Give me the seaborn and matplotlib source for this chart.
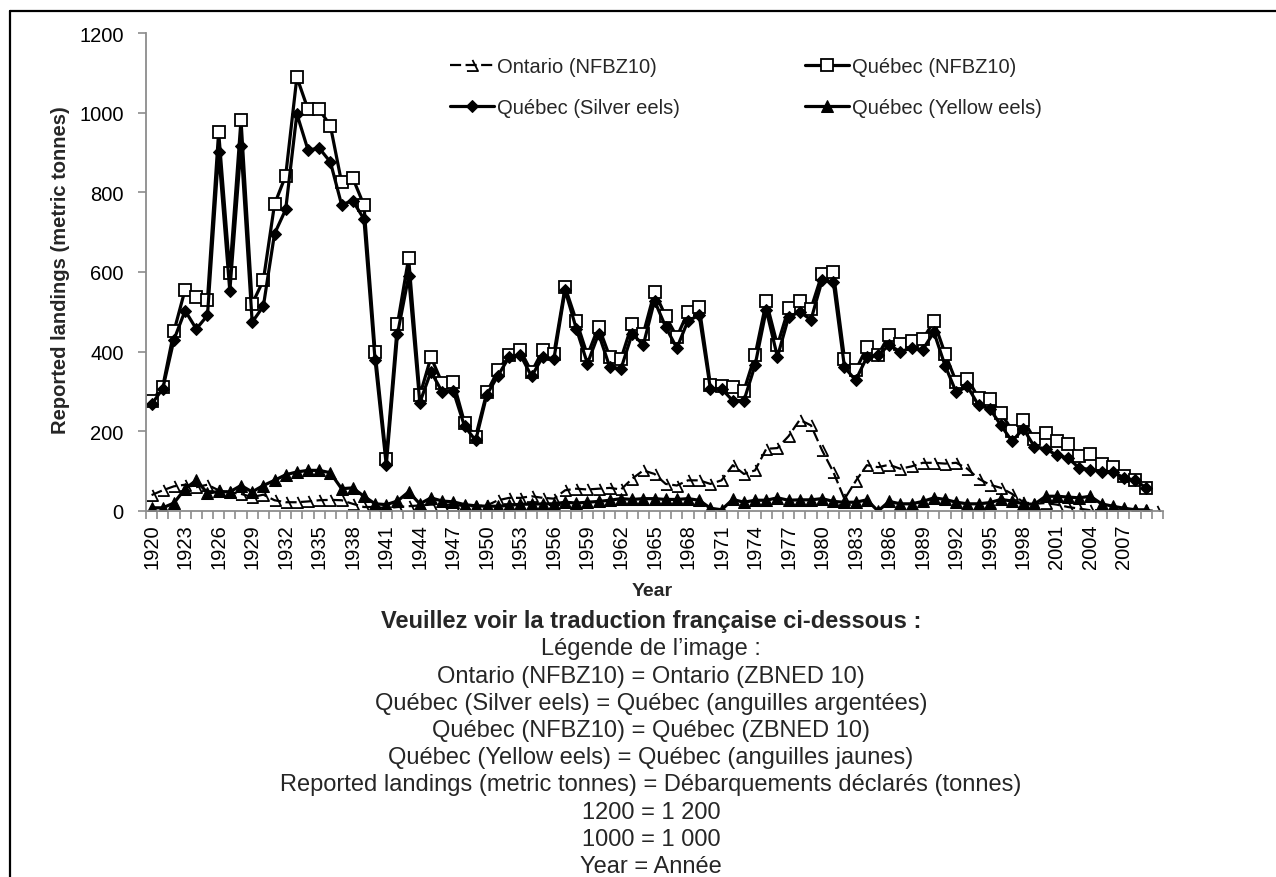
import numpy as np
import pandas as pd
import matplotlib
matplotlib.use("Agg")
import matplotlib.pyplot as plt
import seaborn as sns
from matplotlib.path import Path
from matplotlib.lines import Line2D

# ---------------- data ----------------
years_quebec = list(range(1920, 2010))
years_ontario = list(range(1920, 2011))

quebec_nfbz10 = [275, 312, 451, 556, 538, 530, 952, 598, 982, 520,
                 579, 770, 842, 1089, 1008, 1008, 967, 825, 836, 768,
                 399, 131, 469, 635, 290, 386, 321, 324, 222, 187,
                 298, 353, 392, 403, 349, 403, 395, 562, 478, 391,
                 463, 387, 382, 470, 445, 550, 489, 437, 500, 512,
                 317, 313, 311, 302, 391, 526, 416, 509, 526, 508,
                 596, 600, 382, 353, 411, 391, 442, 420, 426, 431,
                 476, 395, 324, 332, 284, 280, 246, 202, 229, 180,
                 196, 175, 169, 139, 144, 119, 110, 89, 77, 58]

quebec_silver = [268, 307, 430, 503, 457, 491, 902, 552, 917, 474,
                 514, 696, 757, 997, 906, 911, 876, 769, 779, 733,
                 378, 115, 444, 589, 272, 350, 299, 301, 213, 177,
                 292, 340, 387, 392, 338, 387, 382, 554, 458, 370,
                 445, 361, 357, 445, 417, 528, 462, 409, 478, 491,
                 307, 307, 277, 277, 366, 505, 387, 487, 500, 480,
                 579, 575, 361, 328, 386, 392, 416, 400, 409, 405,
                 449, 365, 298, 313, 265, 257, 215, 175, 207, 161,
                 156, 140, 133, 108, 104, 99, 99, 83, 77, 58]

quebec_yellow = [8, 8, 20, 56, 77, 45, 49, 48, 64, 48,
                 64, 77, 91, 98, 102, 102, 96, 56, 58, 37,
                 18, 16, 25, 48, 18, 33, 25, 23, 16, 13,
                 12, 12, 14, 17, 17, 18, 18, 22, 20, 22,
                 24, 27, 31, 29, 31, 31, 29, 29, 31, 27,
                 7, 3, 29, 22, 27, 27, 33, 27, 28, 28,
                 31, 24, 22, 22, 28, 0, 24, 18, 18, 24,
                 33, 29, 22, 18, 18, 21, 29, 25, 18, 17,
                 37, 37, 35, 33, 37, 18, 12, 7, 3, 3]

ontario_nfbz10 = [40, 52, 62, 66, 60, 66, 52, 47, 43, 35,
                  41, 27, 22, 22, 24, 27, 28, 27, 18, 10,
                  10, 7, 10, 12, 14, 16, 16, 16, 12, 12,
                  14, 27, 33, 33, 37, 33, 31, 52, 56, 54,
                  56, 58, 54, 81, 102, 93, 68, 64, 77, 77,
                  68, 77, 115, 93, 102, 156, 158, 188, 229, 215,
                  152, 98, 30, 75, 115, 110, 116, 106, 112, 121,
                  121, 119, 121, 106, 81, 66, 58, 43, 22, 18,
                  20, 16, 10, 6, 2, 2, 2, 2, 2, 2, 0]

tick_years = list(range(1920, 2008, 3))
labels = {
    "ontario": "Ontario (NFBZ10)",
    "silver": "Québec (Silver eels)",
    "nfbz": "Québec (NFBZ10)",
    "yellow": "Québec (Yellow eels)",
}
ylabel = "Reported landings (metric tonnes)"
xlabel = "Year"
notes_title = "Veuillez voir la traduction française ci-dessous :"
notes = [
    "Légende de l’image :",
    "Ontario (NFBZ10) = Ontario (ZBNED 10)",
    "Québec (Silver eels) = Québec (anguilles argentées)",
    "Québec (NFBZ10) = Québec (ZBNED 10)",
    "Québec (Yellow eels) = Québec (anguilles jaunes)",
    "Reported landings (metric tonnes) = Débarquements déclarés (tonnes)",
    "1200 = 1 200",
    "1000 = 1 000",
    "Year = Année",
]

# ---------------- style ----------------
sns.set_theme(style="white")
plt.rcParams['font.family'] = ['Liberation Sans', 'DejaVu Sans']

W, H = 1276, 878
fig = plt.figure(figsize=(W / 100, H / 100), dpi=100)
fig.patch.set_facecolor("white")

ax_left, ax_right, ax_top, ax_bottom = 146, 1163, 34, 512
ax = fig.add_axes([ax_left / W, 1 - ax_bottom / H,
                   (ax_right - ax_left) / W, (ax_bottom - ax_top) / H])

# custom open-triangle marker for Ontario (right edge + base)
ont_marker = Path([(0, 1), (1, -1), (-1, -1)],
                  [Path.MOVETO, Path.LINETO, Path.LINETO])

df_ont = pd.DataFrame({"year": years_ontario, "value": ontario_nfbz10})
df_q = pd.DataFrame({"year": years_quebec, "nfbz": quebec_nfbz10,
                     "silver": quebec_silver, "yellow": quebec_yellow})

sns.lineplot(data=df_ont, x="year", y="value", ax=ax, color="black",
             linewidth=1.6, linestyle=(0, (5, 2)), marker=ont_marker,
             markersize=8, markerfacecolor="none", markeredgecolor="black",
             markeredgewidth=1.3, label=labels["ontario"])
sns.lineplot(data=df_q, x="year", y="nfbz", ax=ax, color="black",
             linewidth=2.3, marker="s", markersize=8.5,
             markerfacecolor="white", markeredgecolor="black",
             markeredgewidth=1.3, label=labels["nfbz"])
sns.lineplot(data=df_q, x="year", y="silver", ax=ax, color="black",
             linewidth=2.3, marker="D", markersize=6,
             markerfacecolor="black", markeredgecolor="black",
             label=labels["silver"])
sns.lineplot(data=df_q, x="year", y="yellow", ax=ax, color="black",
             linewidth=2.3, marker="^", markersize=9,
             markerfacecolor="black", markeredgecolor="black",
             label=labels["yellow"])

ax.set_xlim(1919.5, 2010.5)
ax.set_ylim(0, 1200)
ax.set_yticks(range(0, 1201, 200))
ax.set_xticks(tick_years)
ax.set_xticklabels([str(y) for y in tick_years], rotation=90)
ax.set_xticks(np.arange(1919.5, 2011, 1.0), minor=True)
ax.tick_params(axis="x", which="major", length=0, pad=9, labelsize=14.5,
               labelcolor="black")
ax.tick_params(axis="x", which="minor", length=6, width=1.2,
               color="#8c8c8c", direction="out")
ax.tick_params(axis="y", which="major", length=6, width=1.2,
               color="#8c8c8c", direction="out", pad=10, labelsize=14.5,
               labelcolor="black")
ax.xaxis.set_ticks_position("bottom")
ax.yaxis.set_ticks_position("left")
for side in ("top", "right"):
    ax.spines[side].set_visible(False)
for side in ("left", "bottom"):
    ax.spines[side].set_color("#8c8c8c")
    ax.spines[side].set_linewidth(1.3)
ax.set_xlabel("")
ax.set_ylabel("")
ax.grid(False)

# legend: order column-first -> Ontario, Silver | NFBZ10, Yellow
handles, labs = ax.get_legend_handles_labels()
hmap = dict(zip(labs, handles))
order = [labels["ontario"], labels["silver"], labels["nfbz"], labels["yellow"]]
ax.get_legend().remove()
fig.legend([hmap[l] for l in order], order, ncol=2, frameon=False,
           loc="upper left", bbox_to_anchor=(450 / W, 1 - 58 / H),
           fontsize=14.5, handlelength=2.2, handletextpad=0.15,
           columnspacing=6.2, labelspacing=1.1, borderpad=0,
           borderaxespad=0)

# axis titles
fig.text(61 / W, 1 - 270 / H, ylabel, rotation=90, ha="center", va="center",
         fontsize=14.5, fontweight="bold")
fig.text(652 / W, 1 - 592 / H, xlabel, ha="center", va="center",
         fontsize=14, fontweight="bold")

# translation notes
fig.text(651 / W, 1 - 622 / H, notes_title, ha="center", va="center",
         fontsize=17, fontweight="bold")
for i, line in enumerate(notes):
    fig.text(651 / W, 1 - (649.5 + 27.2 * i) / H, line, ha="center",
             va="center", fontsize=17)

# outer border (top and left visible)
fig.add_artist(Line2D([10 / W, 1.0], [1 - 12 / H, 1 - 12 / H],
                      transform=fig.transFigure, color="black", linewidth=1.6))
fig.add_artist(Line2D([10 / W, 10 / W], [0.0, 1 - 12 / H],
                      transform=fig.transFigure, color="black", linewidth=1.6))

fig.savefig("out.png", dpi=100, facecolor="white")
